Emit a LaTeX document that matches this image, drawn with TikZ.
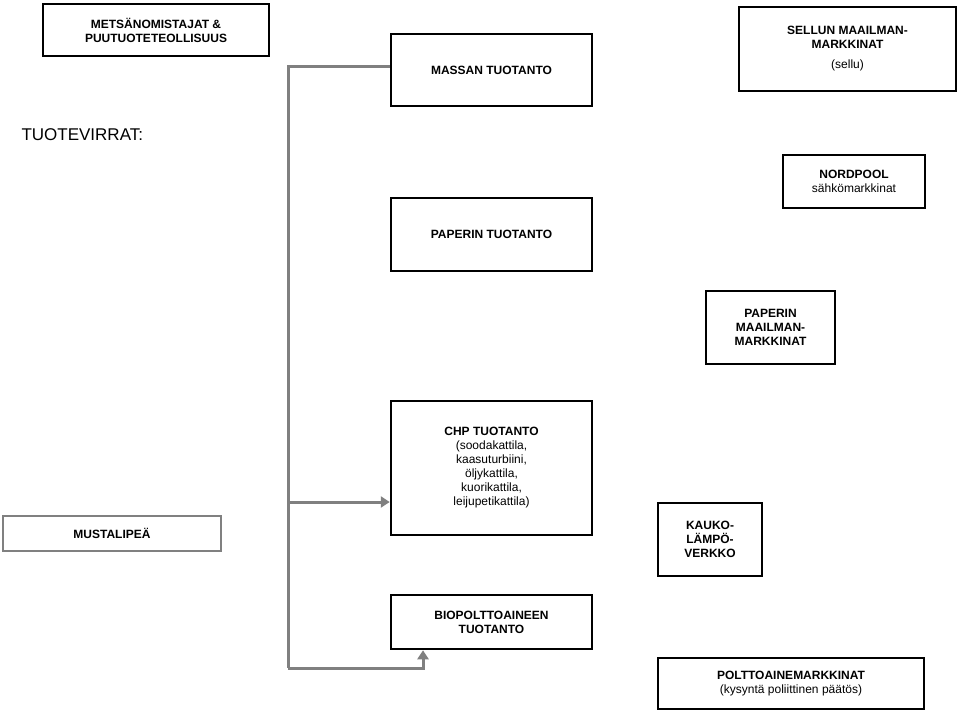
\documentclass[tikz,border=0pt]{standalone}
\usepackage{fontspec}
\setmainfont{Liberation Sans}
\usetikzlibrary{positioning}
\tikzset{
  box/.style={draw, line width=2.5pt, align=center, inner sep=2pt, font=\fontsize{12}{14}\selectfont},
  flow/.style={draw=gray, line width=3pt, -{Triangle[length=9pt,width=11pt]}},
}
\usetikzlibrary{arrows.meta}
\begin{document}
\begin{tikzpicture}[x=1pt,y=-1pt]
  \useasboundingbox (0,0) rectangle (960,714);
  \node[box, minimum width=226, minimum height=52] (metsa) at (156,30) {\textbf{METSÄNOMISTAJAT \&}\\\textbf{PUUTUOTETEOLLISUUS}};
  \node[box, minimum width=201, minimum height=72] (massa) at (491.5,70) {\textbf{MASSAN TUOTANTO}};
  \node[box, minimum width=217, minimum height=84] (sellu) at (847.5,49) {\textbf{SELLUN MAAILMAN-}\\\textbf{MARKKINAT}\\[6pt]\textnormal{(sellu)}};
  \node[anchor=west, font=\fontsize{17}{20}\selectfont] (virrat) at (18,135) {TUOTEVIRRAT:};
  \node[box, minimum width=142, minimum height=53] (nordpool) at (854,181.5) {\textbf{NORDPOOL}\\sähkömarkkinat};
  \node[box, minimum width=201, minimum height=73] (paperi) at (491.5,234.5) {\textbf{PAPERIN TUOTANTO}};
  \node[box, minimum width=129, minimum height=73] (pmarkkina) at (770.5,327.5) {\textbf{PAPERIN}\\\textbf{MAAILMAN-}\\\textbf{MARKKINAT}};
  \node[box, minimum width=201, minimum height=134] (chp) at (491.5,468) {\textbf{CHP TUOTANTO}\\(soodakattila,\\kaasuturbiini,\\öljykattila,\\kuorikattila,\\leijupetikattila)};
  \node[box, draw=gray, minimum width=218, minimum height=35] (musta) at (112,533.5) {\textbf{MUSTALIPEÄ}};
  \node[box, minimum width=104, minimum height=73] (kauko) at (710,539.5) {\textbf{KAUKO-}\\\textbf{LÄMPÖ-}\\\textbf{VERKKO}};
  \node[box, minimum width=201, minimum height=54] (bio) at (491.5,622) {\textbf{BIOPOLTTOAINEEN}\\\textbf{TUOTANTO}};
  \node[box, minimum width=266, minimum height=51] (poltto) at (791,683.5) {\textbf{POLTTOAINEMARKKINAT}\\(kysyntä poliittinen päätös)};
  % virrat
  \coordinate (ylä) at (288,67);
  \coordinate (haara) at (288,502);
  \coordinate (ala) at (288,668);
  \coordinate (alaoik) at (423,668);
  \draw[draw=gray, line width=3pt] (massa.west |- ylä) -- (ylä) -- (ala);
  \draw[flow] (haara) -- (chp.west |- haara);
  \draw[flow] (ala) -- (alaoik) -- (alaoik |- bio.south);
\end{tikzpicture}
\end{document}
